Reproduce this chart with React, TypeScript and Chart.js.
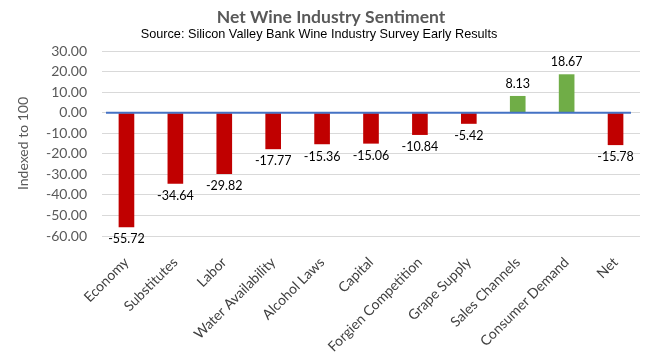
import React, { useEffect, useRef } from "react";
import { Chart, registerables } from "chart.js";

Chart.register(...registerables);

const TITLE = "Net Wine Industry Sentiment";
const SUBTITLE = "Source: Silicon Valley Bank Wine Industry Survey Early Results";
const Y_TITLE = "Indexed to 100";

const categories = [
  "Economy",
  "Substitutes",
  "Labor",
  "Water Availability",
  "Alcohol Laws",
  "Capital",
  "Forgien Competition",
  "Grape Supply",
  "Sales Channels",
  "Consumer Demand",
  "Net",
];

const values = [-55.72, -34.64, -29.82, -17.77, -15.36, -15.06, -10.84, -5.42, 8.13, 18.67, -15.78];

const Y_MIN = -60;
const Y_MAX = 30;
const Y_STEP = 10;

const NEG_COLOR = "#C00000";
const POS_COLOR = "#70AD47";
const FONT = "Lato, 'Open Sans', sans-serif";

const overlayPlugin = {
  id: "overlay",
  afterDatasetsDraw(chart: any) {
    const { ctx, chartArea } = chart;
    const y = chart.scales.y;
    const y0 = y.getPixelForValue(0);
    ctx.save();
    // zero axis line
    ctx.strokeStyle = "#4472C4";
    ctx.lineWidth = 2;
    ctx.beginPath();
    ctx.moveTo(chartArea.left + 4, y0);
    ctx.lineTo(chartArea.right - 9, y0);
    ctx.stroke();
    // data labels
    const meta = chart.getDatasetMeta(0);
    ctx.font = `12.5px ${FONT}`;
    ctx.fillStyle = "#000000";
    ctx.textAlign = "center";
    meta.data.forEach((el: any, i: number) => {
      const v = values[i];
      const txt = v.toFixed(2);
      if (v < 0) {
        ctx.textBaseline = "top";
        ctx.fillText(txt, el.x, el.y + 6);
      } else {
        ctx.textBaseline = "bottom";
        ctx.fillText(txt, el.x, el.y - 6);
      }
    });
    ctx.restore();
  },
  afterDraw(chart: any) {
    const { ctx } = chart;
    ctx.save();
    ctx.textAlign = "center";
    ctx.textBaseline = "middle";
    ctx.fillStyle = "#595959";
    ctx.font = `bold 17.5px ${FONT}`;
    ctx.fillText(TITLE, 331, 17);
    ctx.fillStyle = "#000000";
    ctx.font = "12.7px 'Liberation Sans', Arial, sans-serif";
    ctx.fillText(SUBTITLE, 319, 34);
    ctx.restore();
  },
};

export default function App() {
  const ref = useRef<HTMLCanvasElement | null>(null);

  useEffect(() => {
    if (!ref.current) return;
    const chart = new Chart(ref.current, {
      type: "bar",
      data: {
        labels: categories,
        datasets: [
          {
            data: values,
            backgroundColor: values.map((v) => (v < 0 ? NEG_COLOR : POS_COLOR)),
            borderWidth: 0,
            categoryPercentage: 1,
            barPercentage: 0.32,
          },
        ],
      },
      options: {
        animation: false,
        responsive: false,
        maintainAspectRatio: false,
        devicePixelRatio: 1,
        layout: { padding: { top: 51, right: 17, left: 0, bottom: 0 } },
        plugins: {
          legend: { display: false },
          tooltip: { enabled: false },
          title: { display: false },
        },
        scales: {
          x: {
            grid: { display: false, drawTicks: false },
            border: { display: false },
            ticks: {
              autoSkip: false,
              minRotation: 45,
              maxRotation: 45,
              padding: 18,
              color: "#404040",
              font: { family: FONT, size: 14 },
            },
            afterFit: (scale: any) => {
              scale.height = 128;
            },
          },
          y: {
            min: Y_MIN,
            max: Y_MAX,
            grid: { color: "#D9D9D9", lineWidth: 1, drawTicks: false },
            border: { display: false },
            ticks: {
              stepSize: Y_STEP,
              padding: 15,
              color: "#595959",
              font: { family: FONT, size: 14 },
              callback: (v: any) => Number(v).toFixed(2),
            },
            title: {
              display: true,
              text: Y_TITLE,
              color: "#595959",
              font: { family: FONT, size: 14 },
              padding: { top: 15, bottom: 0 },
            },
            afterFit: (scale: any) => {
              scale.width = 102;
            },
          },
        },
      },
      plugins: [overlayPlugin],
    });
    return () => chart.destroy();
  }, []);

  return (
    <div style={{ position: "fixed", left: 0, top: 0, width: 657, height: 364, background: "#fff" }}>
      <canvas ref={ref} width={657} height={364} style={{ width: 657, height: 364 }} />
    </div>
  );
}
